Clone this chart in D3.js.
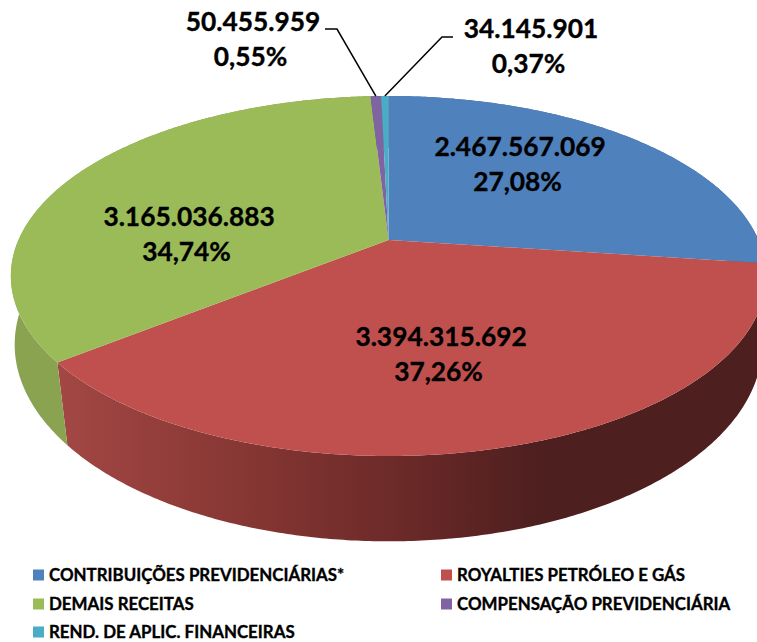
<!DOCTYPE html>
<html>
<head>
<meta charset="utf-8">
<script src="https://cdn.jsdelivr.net/npm/d3@7"></script>
<style>
    html, body { margin: 0; padding: 0; background: #fff; }
    svg { display: block; }
    text { font-family: Lato, "Open Sans", sans-serif; font-weight: 700; fill: #000; stroke: #000; }
</style>
</head>
<body>
<svg id="chart"></svg>
<script>
var categories = ['CONTRIBUIÇÕES PREVIDENCIÁRIAS*', 'ROYALTIES PETRÓLEO E GÁS', 'DEMAIS RECEITAS', 'COMPENSAÇÃO PREVIDENCIÁRIA', 'REND. DE APLIC. FINANCEIRAS'];
var values = [2467567069, 3394315692, 3165036883, 50455959, 34145901];
var valueLabels = ['2.467.567.069', '3.394.315.692', '3.165.036.883', '50.455.959', '34.145.901'];
var percentLabels = ['27,08%', '37,26%', '34,74%', '0,55%', '0,37%'];
var colors = ['#4f81bd', '#c0504d', '#9bbb59', '#8064a2', '#4bacc6'];

var totalWidth = 757;
var totalHeight = 642;

var svg = d3.select('#chart')
    .attr('width', totalWidth)
    .attr('height', totalHeight);

// the disc is a circle seen in perspective, so the centre sits above the middle of the ellipse
var topRim = { cx: 388.5, cy: 240, rx: 370, ry: 172.8, k: 0.2 };
var bottomRim = { cx: 388.5, cy: 313, rx: 369, ry: 191.8, k: 0.16 };

function project(rim, angle) {
    var u = Math.sin(angle);
    var v = Math.cos(angle);
    var w = 1 + rim.k * v;
    return [rim.cx + rim.rx * u / w, rim.cy - rim.ry * v / w];
}

function rimPoints(rim, a0, a1) {
    var n = Math.max(2, Math.ceil((a1 - a0) / 0.01));
    return d3.range(n + 1).map(function (i) {
        return project(rim, a0 + (a1 - a0) * i / n);
    });
}

var line = d3.line();
var arcs = d3.pie().sort(null)(values);

var defs = svg.append('defs');
var redSide = defs.append('linearGradient')
    .attr('id', 'redSide')
    .attr('gradientUnits', 'userSpaceOnUse')
    .attr('x1', 60).attr('x2', 540)
    .attr('y1', 0).attr('y2', 0);
redSide.append('stop').attr('offset', 0).attr('stop-color', '#a24744');
redSide.append('stop').attr('offset', 0.35).attr('stop-color', '#893835');
redSide.append('stop').attr('offset', 0.7).attr('stop-color', '#6c2a28');
redSide.append('stop').attr('offset', 1).attr('stop-color', '#4d1f1f');

var sideFills = ['#3f6797', 'url(#redSide)', '#89a350', '#66507f', '#3c899e'];

// sides first, the top face paints over whatever is hidden
svg.append('g').selectAll('path')
    .data(arcs)
    .enter()
    .append('path')
    .attr('d', function (d) {
        var pts = rimPoints(topRim, d.startAngle, d.endAngle)
            .concat(rimPoints(bottomRim, d.startAngle, d.endAngle).reverse());
        return line(pts) + 'Z';
    })
    .attr('fill', function (d, i) { return sideFills[i]; });

svg.append('g').selectAll('path')
    .data(arcs)
    .enter()
    .append('path')
    .attr('d', function (d) {
        var pts = [[topRim.cx, topRim.cy]].concat(rimPoints(topRim, d.startAngle, d.endAngle));
        return line(pts) + 'Z';
    })
    .attr('fill', function (d, i) { return colors[i]; });

// leader lines for the two thin slices
var leaders = [
    { slice: 3, from: [325, 29], knee: [337, 29] },
    { slice: 4, from: [453, 37], knee: [442, 37] }
];
svg.append('g').selectAll('path')
    .data(leaders)
    .enter()
    .append('path')
    .attr('d', function (d) {
        var a = arcs[d.slice];
        return line([d.from, d.knee, project(topRim, (a.startAngle + a.endAngle) / 2)]);
    })
    .attr('fill', 'none')
    .attr('stroke', '#000')
    .attr('stroke-width', 1.5);

var labelPos = [[520, 147], [441, 337], [189, 217], [253, 22], [531, 29]];
var labelStep = 35;

var labels = svg.append('g').selectAll('g')
    .data(valueLabels)
    .enter()
    .append('g')
    .attr('transform', function (d, i) { return 'translate(' + labelPos[i][0] + ',' + labelPos[i][1] + ')'; })
    .attr('text-anchor', 'middle')
    .style('font-size', '26.3px')
    .style('stroke-width', '0.35px');
labels.append('text')
    .attr('dy', '0.35em')
    .text(function (d) { return d; });
labels.append('text')
    .attr('x', -2.5)
    .attr('y', labelStep)
    .attr('dy', '0.35em')
    .text(function (d, i) { return percentLabels[i]; });

// legend, two columns filled left to right
var legendX = d3.scaleOrdinal().domain([0, 1]).range([33, 441]);
var legendY = d3.scaleOrdinal().domain([0, 1, 2]).range([575, 604, 632]);

var legend = svg.append('g').selectAll('g')
    .data(categories)
    .enter()
    .append('g')
    .attr('transform', function (d, i) {
        return 'translate(' + legendX(i % 2) + ',' + legendY(Math.floor(i / 2)) + ')';
    });
legend.append('rect')
    .attr('x', 0)
    .attr('y', -5.5)
    .attr('width', 11)
    .attr('height', 11)
    .attr('fill', function (d, i) { return colors[i]; });
legend.append('text')
    .attr('x', 16)
    .attr('dy', '0.35em')
    .style('font-size', '16.9px')
    .style('stroke-width', '0.35px')
    .text(function (d) { return d; });
</script>
</body>
</html>
